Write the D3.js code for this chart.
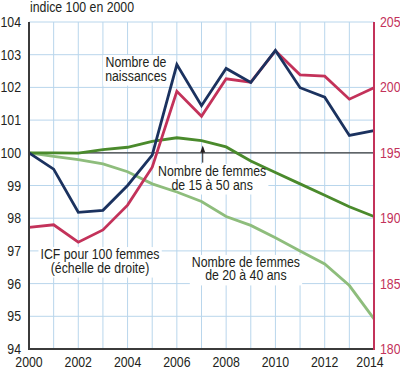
<!DOCTYPE html>
<html><head><meta charset="utf-8">
<script src="https://cdn.jsdelivr.net/npm/d3@7/dist/d3.min.js"></script>
<style>
html,body{margin:0;padding:0;background:#fff;}
svg{display:block;font-family:"Liberation Sans",Arial,sans-serif;}
</style></head><body>
<svg id="c" width="400" height="369"></svg>
<script>
const years = [2000,2001,2002,2003,2004,2005,2006,2007,2008,2009,2010,2011,2012,2013,2014];
const naissances = [100,99.5,98.18,98.24,99.0,99.93,102.7,101.44,102.58,102.15,103.13,101.99,101.7,100.53,100.68];
const icf = [189.3,189.5,188.17,189.1,191.0,193.9,199.7,197.8,200.66,200.4,202.8,200.96,200.86,199.1,199.97];
const femmes1550 = [100,100,99.99,100.1,100.17,100.35,100.46,100.37,100.18,99.75,99.4,99.05,98.7,98.35,98.05];
const femmes2040 = [100,99.89,99.79,99.66,99.42,99.05,98.8,98.51,98.05,97.78,97.4,97.0,96.6,95.94,94.92];
const leftTicks = [94,95,96,97,98,99,100,101,102,103,104];
const rightTicks = [180,185,190,195,200,205];
const xTickYears = [2000,2002,2004,2006,2008,2010,2012,2014];
const unitLabel = "indice 100 en 2000";

const svg = d3.select("#c");
const x = d3.scaleLinear().domain([2000,2014]).range([29,374]);
const yL = d3.scaleLinear().domain([94,104]).range([349,22]);
const yR = d3.scaleLinear().domain([180,205]).range([349,22]);

const gridC = "#b9d6ec", txtC = "#231f20", redC = "#c3325a", navyC = "#1b325f",
      dgreenC = "#4a8a2c", lgreenC = "#8ebd7c", axisC = "#3b3b3b";
const FS = 14.5, SX = 0.85;

function ctext(parent, X, Y, str, anchor, color){
  const g = parent.append("g").attr("transform", `translate(${X},${Y}) scale(${SX},1)`);
  const t = g.append("text").attr("x",0).attr("y",0).attr("text-anchor", anchor)
    .attr("font-size", FS).attr("fill", color).text(str);
  return {g, t};
}

svg.append("g").selectAll("line").data(leftTicks).join("line")
  .attr("x1", x(2000)).attr("x2", x(2014)).attr("y1", d=>yL(d)).attr("y2", d=>yL(d))
  .attr("stroke", gridC).attr("stroke-width", 1);
svg.append("g").selectAll("line").data(years).join("line")
  .attr("x1", d=>x(d)).attr("x2", d=>x(d)).attr("y1", yL(104)).attr("y2", yL(94))
  .attr("stroke", gridC).attr("stroke-width", 1);

const labels = [
  {lines:["Nombre de","naissances"], xv:2004.34, yv:102.62},
  {lines:["Nombre de femmes","de 15 à 50 ans"], xv:2007.43, yv:99.29},
  {lines:["ICF pour 100 femmes","(échelle de droite)"], xv:2002.88, yv:96.75},
  {lines:["Nombre de femmes","de 20 à 40 ans"], xv:2008.8, yv:96.51}
];
const boxG = svg.append("g");
const baseG = svg.append("g");
const lineG = svg.append("g");
const txtG = svg.append("g");

baseG.append("line").attr("x1", x(2000)).attr("x2", x(2014)).attr("y1", yL(100)).attr("y2", yL(100))
  .attr("stroke", axisC).attr("stroke-width", 1.2);

const line = (arr, ys) => d3.line().x((d,i)=>x(years[i])).y(d=>ys(d))(arr);
const series = [
  {v:femmes2040, s:yL, c:lgreenC},
  {v:femmes1550, s:yL, c:dgreenC},
  {v:icf, s:yR, c:redC},
  {v:naissances, s:yL, c:navyC}
];
lineG.selectAll("path").data(series).join("path")
  .attr("d", d=>line(d.v, d.s)).attr("fill","none").attr("stroke", d=>d.c)
  .attr("stroke-width", 2.8).attr("stroke-linejoin","miter");

labels.forEach(l=>{
  const X = x(l.xv), Y = yL(l.yv);
  let minX=1e9,maxX=-1e9,minY=1e9,maxY=-1e9;
  l.lines.forEach((s,i)=>{
    const {t} = ctext(txtG, X, Y + i*13.5, s, "middle", txtC);
    const b = t.node().getBBox();
    minX=Math.min(minX, X + b.x*SX); maxX=Math.max(maxX, X + (b.x+b.width)*SX);
    minY=Math.min(minY, Y + i*13.5 - 11); maxY=Math.max(maxY, Y + i*13.5 + 4);
  });
  boxG.append("rect").attr("x", minX-2).attr("y", minY-1).attr("width", maxX-minX+4).attr("height", maxY-minY+2)
    .attr("fill","#fff");
});

const ax = x(2007.05);
svg.append("line").attr("x1", ax).attr("x2", ax).attr("y1", yL(100.16)).attr("y2", yL(99.7))
  .attr("stroke", txtC).attr("stroke-width", 1);
svg.append("path").attr("d", `M${ax},${yL(100.22)} l-2.5,7 l5,0 z`).attr("fill", txtC);

svg.append("line").attr("x1", x(2000)).attr("x2", x(2000)).attr("y1", yL(104)).attr("y2", yL(94)+1)
  .attr("stroke", axisC).attr("stroke-width", 2);
svg.append("line").attr("x1", x(2000)-1).attr("x2", x(2014)).attr("y1", yL(94)).attr("y2", yL(94))
  .attr("stroke", axisC).attr("stroke-width", 2.2);
svg.append("line").attr("x1", x(2014)).attr("x2", x(2014)).attr("y1", yL(104)).attr("y2", yL(94)+1)
  .attr("stroke", redC).attr("stroke-width", 2);

const tg = svg.append("g");
leftTicks.forEach(d=>ctext(tg, 21, yL(d)+5, d, "end", txtC));
rightTicks.forEach(d=>ctext(tg, 380, yR(d)+5, d, "start", redC));
xTickYears.forEach(d=>ctext(tg, x(d) - (d===2014?4:0), 366.5, d, "middle", txtC));
ctext(tg, 30, 12, unitLabel, "start", txtC);
</script>
</body></html>
